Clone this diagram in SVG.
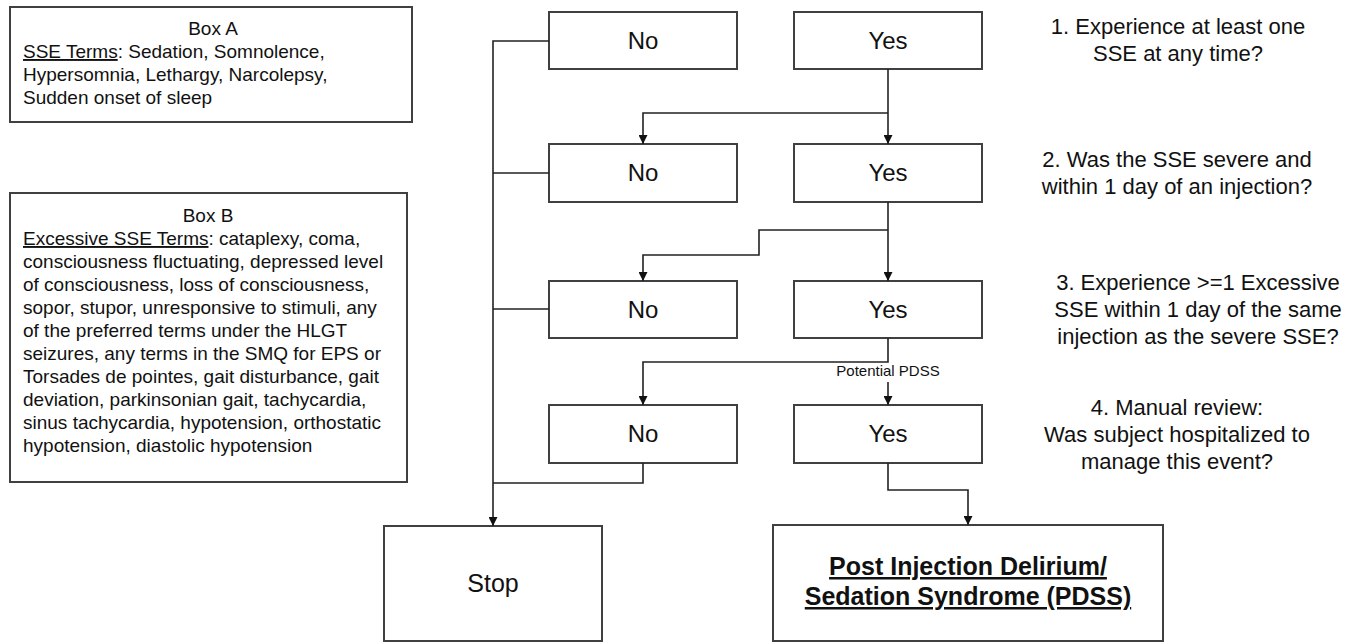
<svg xmlns="http://www.w3.org/2000/svg" width="1364" height="644" viewBox="0 0 1364 644">
<defs>
<style>
.box{fill:#fff;stroke:#404040;stroke-width:2}
.t{font-family:"Liberation Sans",Arial,sans-serif;fill:#111}
.note{font-size:19px}
.lbl{font-size:24px;text-anchor:middle}
.q{font-size:22px;text-anchor:middle}
.ln{fill:none;stroke:#222;stroke-width:1.6}
.u{text-decoration:underline}
</style>
<marker id="ah" viewBox="0 0 10 10" refX="10" refY="5" markerWidth="9" markerHeight="9" markerUnits="userSpaceOnUse" orient="auto">
<path d="M0,0 L10,5 L0,10 Z" fill="#111"/>
</marker>
</defs>
<rect width="1364" height="644" fill="#fff"/>

<g id="boxA">
<rect class="box" x="10" y="7" width="402" height="115"/>
<text class="t note" x="213" y="35" text-anchor="middle">Box A</text>
<text class="t note" x="23" y="58"><tspan class="u">SSE Terms</tspan>: Sedation, Somnolence,</text>
<text class="t note" x="23" y="81">Hypersomnia, Lethargy, Narcolepsy,</text>
<text class="t note" x="23" y="104">Sudden onset of sleep</text>
</g>

<g id="boxB">
<rect class="box" x="10" y="193" width="397" height="289"/>
<text class="t note" x="208" y="222" text-anchor="middle">Box B</text>
<text class="t note" x="23" y="245"><tspan class="u">Excessive SSE Terms</tspan>: cataplexy, coma,</text>
<text class="t note" x="23" y="268">consciousness fluctuating, depressed level</text>
<text class="t note" x="23" y="291">of consciousness, loss of consciousness,</text>
<text class="t note" x="23" y="314">sopor, stupor, unresponsive to stimuli, any</text>
<text class="t note" x="23" y="337">of the preferred terms under the HLGT</text>
<text class="t note" x="23" y="360">seizures, any terms in the SMQ for EPS or</text>
<text class="t note" x="23" y="383">Torsades de pointes, gait disturbance, gait</text>
<text class="t note" x="23" y="406">deviation, parkinsonian gait, tachycardia,</text>
<text class="t note" x="23" y="429">sinus tachycardia, hypotension, orthostatic</text>
<text class="t note" x="23" y="452">hypotension, diastolic hypotension</text>
</g>

<g id="no1"><rect class="box" x="549" y="12" width="188" height="57"/><text class="t lbl" x="643" y="49">No</text></g>
<g id="yes1"><rect class="box" x="794" y="12" width="188" height="57"/><text class="t lbl" x="888" y="49">Yes</text></g>
<g id="no2"><rect class="box" x="549" y="144" width="188" height="58"/><text class="t lbl" x="643" y="181">No</text></g>
<g id="yes2"><rect class="box" x="794" y="144" width="188" height="58"/><text class="t lbl" x="888" y="181">Yes</text></g>
<g id="no3"><rect class="box" x="549" y="281" width="188" height="57"/><text class="t lbl" x="643" y="318">No</text></g>
<g id="yes3"><rect class="box" x="794" y="281" width="188" height="57"/><text class="t lbl" x="888" y="318">Yes</text></g>
<g id="no4"><rect class="box" x="549" y="405" width="188" height="58"/><text class="t lbl" x="643" y="442">No</text></g>
<g id="yes4"><rect class="box" x="794" y="405" width="188" height="58"/><text class="t lbl" x="888" y="442">Yes</text></g>

<g id="stop"><rect class="box" x="384" y="526" width="218" height="115"/><text class="t" x="493" y="592" font-size="25" text-anchor="middle">Stop</text></g>
<g id="pdss"><rect class="box" x="773" y="525" width="390" height="116"/>
<text class="t u" x="968" y="575" font-size="25" font-weight="bold" text-anchor="middle">Post Injection Delirium/</text>
<text class="t u" x="968" y="605" font-size="25" font-weight="bold" text-anchor="middle">Sedation Syndrome (PDSS)</text>
</g>

<g id="q1"><text class="t q" x="1178" y="34">1. Experience at least one</text><text class="t q" x="1178" y="61">SSE at any time?</text></g>
<g id="q2"><text class="t q" x="1177" y="167">2. Was the SSE severe and</text><text class="t q" x="1177" y="194">within 1 day of an injection?</text></g>
<g id="q3"><text class="t q" x="1198" y="290">3. Experience &gt;=1 Excessive</text><text class="t q" x="1198" y="317">SSE within 1 day of the same</text><text class="t q" x="1198" y="344">injection as the severe SSE?</text></g>
<g id="q4"><text class="t q" x="1177" y="415">4. Manual review:</text><text class="t q" x="1177" y="442">Was subject hospitalized to</text><text class="t q" x="1177" y="469">manage this event?</text></g>

<g id="connectors">
<path class="ln" d="M549,41 H493 V526" marker-end="url(#ah)"/>
<path class="ln" d="M549,173 H493"/>
<path class="ln" d="M549,309 H493"/>
<path class="ln" d="M643,463 V483 H493"/>
<path class="ln" d="M888,69 V144" marker-end="url(#ah)"/>
<path class="ln" d="M888,113 H643 V144" marker-end="url(#ah)"/>
<path class="ln" d="M888,202 V281" marker-end="url(#ah)"/>
<path class="ln" d="M888,230 H759 V255 H643 V281" marker-end="url(#ah)"/>
<path class="ln" d="M888,338 V362 H643 V405" marker-end="url(#ah)"/>
<path class="ln" d="M888,382 V405" marker-end="url(#ah)"/>
<path class="ln" d="M888,463 V490 H968 V525" marker-end="url(#ah)"/>
<text class="t" x="888" y="376" font-size="15" text-anchor="middle">Potential PDSS</text>
</g>
</svg>
